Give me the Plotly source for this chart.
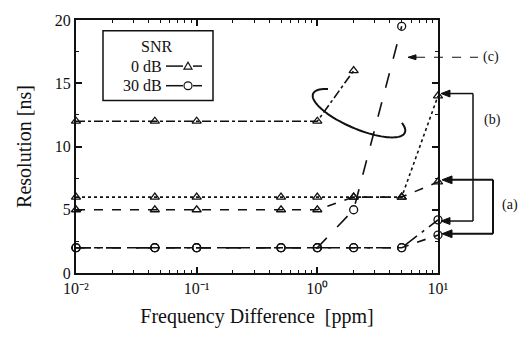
import math
import plotly.graph_objects as go

# ---- data ----
freq_ppm = [0.01, 0.045, 0.1, 0.5, 1, 2, 5, 10]
c_0dB = [12, 12, 12, None, 12, 16, None, None]
b_0dB = [6, 6, 6, 6, 6, 6, 6, 14]
a_0dB = [5, 5, 5, 5, 5, 6, 6, 7.2]
c_30dB = [2, 2, 2, 2, 2, 5, 19.5, None]
b_30dB = [2, 2, 2, 2, 2, 2, 2, 4.2]
a_30dB = [2, 2, 2, 2, 2, 2, 2, 3.0]
x_tickvals = [0.01, 0.1, 1, 10]
x_ticktext = ["10⁻²", "10⁻¹", "10⁰", "10¹"]
x_minor_vals = [m * 10.0 ** e for e in (-2, -1, 0) for m in range(2, 10)]
y_tickvals = [0, 5, 10, 15, 20]

FONT = "Liberation Serif"
W, H = 530, 342
L, R, T, B = 76, 438, 15, 273


def xp(px):
    return (px - L) / (R - L)


def yp(py):
    return (B - py) / (B - T)


fig = go.Figure()

series = [
    (c_0dB, "triangle-up-open", "dashdot"),
    (b_0dB, "triangle-up-open", "dot"),
    (a_0dB, "triangle-up-open", "dash"),
    (c_30dB, "circle-open", "longdash"),
    (b_30dB, "circle-open", "longdashdot"),
    (a_30dB, "circle-open", "dash"),
]
for ys, sym, dash in series:
    fig.add_trace(go.Scatter(
        x=freq_ppm, y=ys, mode="lines+markers", connectgaps=True,
        line=dict(color="#111", width=1.6, dash=dash),
        marker=dict(symbol=sym, size=8, color="#111", line=dict(width=1.3, color="#111")),
        showlegend=False, cliponaxis=False, hoverinfo="skip",
    ))

shapes = []
annotations = []


def text(txt, px, py, size, xanchor="center"):
    annotations.append(dict(xref="paper", yref="paper", x=xp(px), y=yp(py), text=txt,
                            xanchor=xanchor, yanchor="middle", showarrow=False,
                            font=dict(family=FONT, size=size, color="#111")))


def hline(px0, px1, py, width=1.5, dash="solid"):
    shapes.append(dict(type="line", xref="paper", yref="paper", x0=xp(px0), x1=xp(px1),
                       y0=yp(py), y1=yp(py), line=dict(color="#111", width=width, dash=dash),
                       layer="above"))


def vline(px, py0, py1, width=1.5):
    shapes.append(dict(type="line", xref="paper", yref="paper", x0=xp(px), x1=xp(px),
                       y0=yp(py0), y1=yp(py1), line=dict(color="#111", width=width),
                       layer="above"))


def poly(pts, fill=None, width=1.2, close=True):
    path = "M " + " L ".join("{:.4f} {:.4f}".format(xp(a), yp(b)) for a, b in pts)
    if close:
        path += " Z"
    d = dict(type="path", xref="paper", yref="paper", path=path,
             line=dict(color="#111", width=width), layer="above")
    if fill:
        d["fillcolor"] = fill
    shapes.append(d)


def arrow_left(tip_x, py, size=8, half=3.5):
    poly([(tip_x, py), (tip_x + size, py - half), (tip_x + size, py + half)], fill="#111", width=1)


# legend box
shapes.append(dict(type="rect", xref="paper", yref="paper",
                   x0=xp(103), x1=xp(213), y0=yp(97), y1=yp(26),
                   line=dict(color="#111", width=1.5), fillcolor="white", layer="above"))
text("SNR", 156, 42, 16)
for label, py, sym in [("0 dB", 62, "tri"), ("30 dB", 82, "circ")]:
    text(label, 164, py, 16, xanchor="right")
    hline(166, 183, py)
    hline(193, 211, py, dash="dash")
    if sym == "circ":
        shapes.append(dict(type="circle", xref="paper", yref="paper", x0=xp(184), x1=xp(192),
                           y0=yp(py + 4), y1=yp(py - 4), line=dict(color="#111", width=1.2),
                           layer="above"))
    else:
        poly([(184, py + 3), (192, py + 3), (188, py - 4)])

# ellipse arc
cx, cy, a, b, th = 359, 110, 50, 16, math.radians(23.5)
pts = []
for i in range(61):
    t = math.radians(220 - i * 250 / 60)
    px = cx + a * math.cos(t) * math.cos(th) - b * math.sin(t) * math.sin(th)
    py = cy + a * math.cos(t) * math.sin(th) + b * math.sin(t) * math.cos(th)
    pts.append((px, py))
poly(pts, width=2, close=False)

# (c) dashed pointer
hline(416, 478, 53, width=1, dash="dash")
arrow_left(408, 53, size=8, half=2.5)
# (b) bracket
vline(473, 90, 220)
for py in (90, 220):
    hline(448, 473, py)
    arrow_left(441, py, size=9, half=3.5)
# (a) bracket
vline(493, 178, 233, width=2)
for py in (178, 233):
    hline(450, 493, py, width=2)
    arrow_left(442, py, size=10, half=4)
for txt, px, py in [("(c)", 491, 53), ("(b)", 492, 117), ("(a)", 510, 204)]:
    text(txt, px, py, 14)

axis_common = dict(showline=True, linecolor="#111", linewidth=2, mirror="ticks",
                   ticks="inside", tickcolor="#111", showgrid=False, zeroline=False,
                   tickfont=dict(family=FONT, size=16, color="#111"))

fig.update_layout(
    width=W, height=H, margin=dict(l=L, r=W - R, t=T, b=H - B),
    paper_bgcolor="white", plot_bgcolor="white", hovermode=False,
    font=dict(family=FONT, color="#111"),
    shapes=shapes, annotations=annotations,
    xaxis=dict(type="log", range=[-2, 1], tickvals=x_tickvals, ticktext=x_ticktext,
               ticklen=6, tickwidth=1.5,
               minor=dict(tickvals=x_minor_vals, ticks="inside", ticklen=3, tickwidth=1,
                          tickcolor="#111", showgrid=False),
               title=dict(text="Frequency Difference  [ppm]", standoff=13,
                          font=dict(family=FONT, size=20, color="#111")),
               **axis_common),
    yaxis=dict(range=[0, 20], tickvals=y_tickvals, ticklen=6, tickwidth=1.5,
               minor=dict(dtick=2.5, ticks="inside", ticklen=3, tickwidth=1, tickcolor="#111",
                          showgrid=False),
               title=dict(text="Resolution [ns]", standoff=18,
                          font=dict(family=FONT, size=20, color="#111")),
               **axis_common),
)

fig.write_html("out.html", config={"displayModeBar": False})
